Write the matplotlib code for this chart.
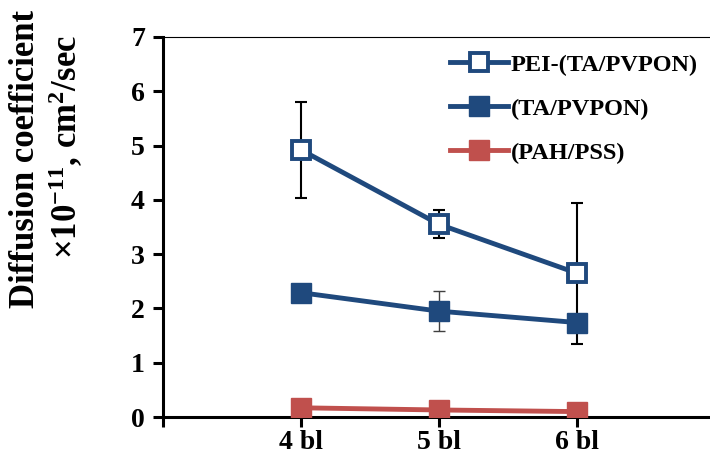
import matplotlib
matplotlib.use('Agg')
import matplotlib.pyplot as plt

plt.rcParams['font.family'] = ['Liberation Serif', 'DejaVu Serif']
plt.rcParams['font.weight'] = 'bold'
plt.rcParams['mathtext.fontset'] = 'custom'
plt.rcParams['mathtext.rm'] = 'Liberation Serif:bold'
plt.rcParams['mathtext.bf'] = 'Liberation Serif:bold'
plt.rcParams['mathtext.default'] = 'rm'

# datos
categorias = ['4 bl', '5 bl', '6 bl']
pei_ta_pvpon = [4.92, 3.55, 2.65]
pei_err = [0.88, 0.26, 1.30]
ta_pvpon = [2.29, 1.95, 1.74]
ta_err = [0.0, 0.37, 0.0]
pah_pss = [0.17, 0.13, 0.10]

azul = '#1F497D'
rojo = '#C0504D'

fig = plt.figure(figsize=(7.1, 4.67), dpi=100)
ax = fig.add_axes([0.2296, 0.107, 0.777, 0.814])

x = [1, 2, 3]

ax.errorbar(x, pei_ta_pvpon, yerr=pei_err, fmt='none', ecolor='black',
            elinewidth=1.5, capsize=4, capthick=1.5, zorder=2)
ax.errorbar(x, ta_pvpon, yerr=ta_err, fmt='none', ecolor='#404040',
            elinewidth=1.0, capsize=4, capthick=1.0, zorder=2)

ax.plot(x, pei_ta_pvpon, color=azul, lw=3.5, marker='s', ms=13,
        mfc='white', mec=azul, mew=2.8, label='PEI-(TA/PVPON)', zorder=3)
ax.plot(x, ta_pvpon, color=azul, lw=3.5, marker='s', ms=14,
        mfc=azul, mec=azul, label='(TA/PVPON)', zorder=3)
ax.plot(x, pah_pss, color=rojo, lw=3.5, marker='s', ms=14,
        mfc=rojo, mec=rojo, label='(PAH/PSS)', zorder=3)

ax.set_xlim(0, 4)
ax.set_ylim(0, 7)
ax.set_xticks([0, 1, 2, 3, 4])
ax.set_xticklabels([''] + categorias + [''])
ax.set_yticks(range(8))

ax.spines['right'].set_visible(False)
ax.spines['top'].set_linewidth(0.8)
ax.spines['left'].set_linewidth(2.2)
ax.spines['bottom'].set_linewidth(2.2)
ax.tick_params(axis='both', direction='out', length=7, width=2.2,
               labelsize=20, pad=6)
ax.tick_params(axis='x', pad=2)
for lab in ax.get_xticklabels() + ax.get_yticklabels():
    lab.set_fontweight('bold')

fig.text(0.036, 0.66, 'Diffusion coefficient', rotation=90, fontsize=25,
         fontweight='bold', ha='center', va='center')
fig.text(0.093, 0.685, r'$\times 10^{-11}$, cm$^{2}$/sec', rotation=90,
         fontsize=25, fontweight='bold', ha='center', va='center')

leg = ax.legend(loc='upper right', bbox_to_anchor=(1.0, 1.0), frameon=False,
                prop={'size': 17.5, 'weight': 'bold'}, handlelength=2.4,
                handletextpad=0.1, labelspacing=0.9, borderaxespad=0.3)

fig.savefig('out.png', dpi=100)
